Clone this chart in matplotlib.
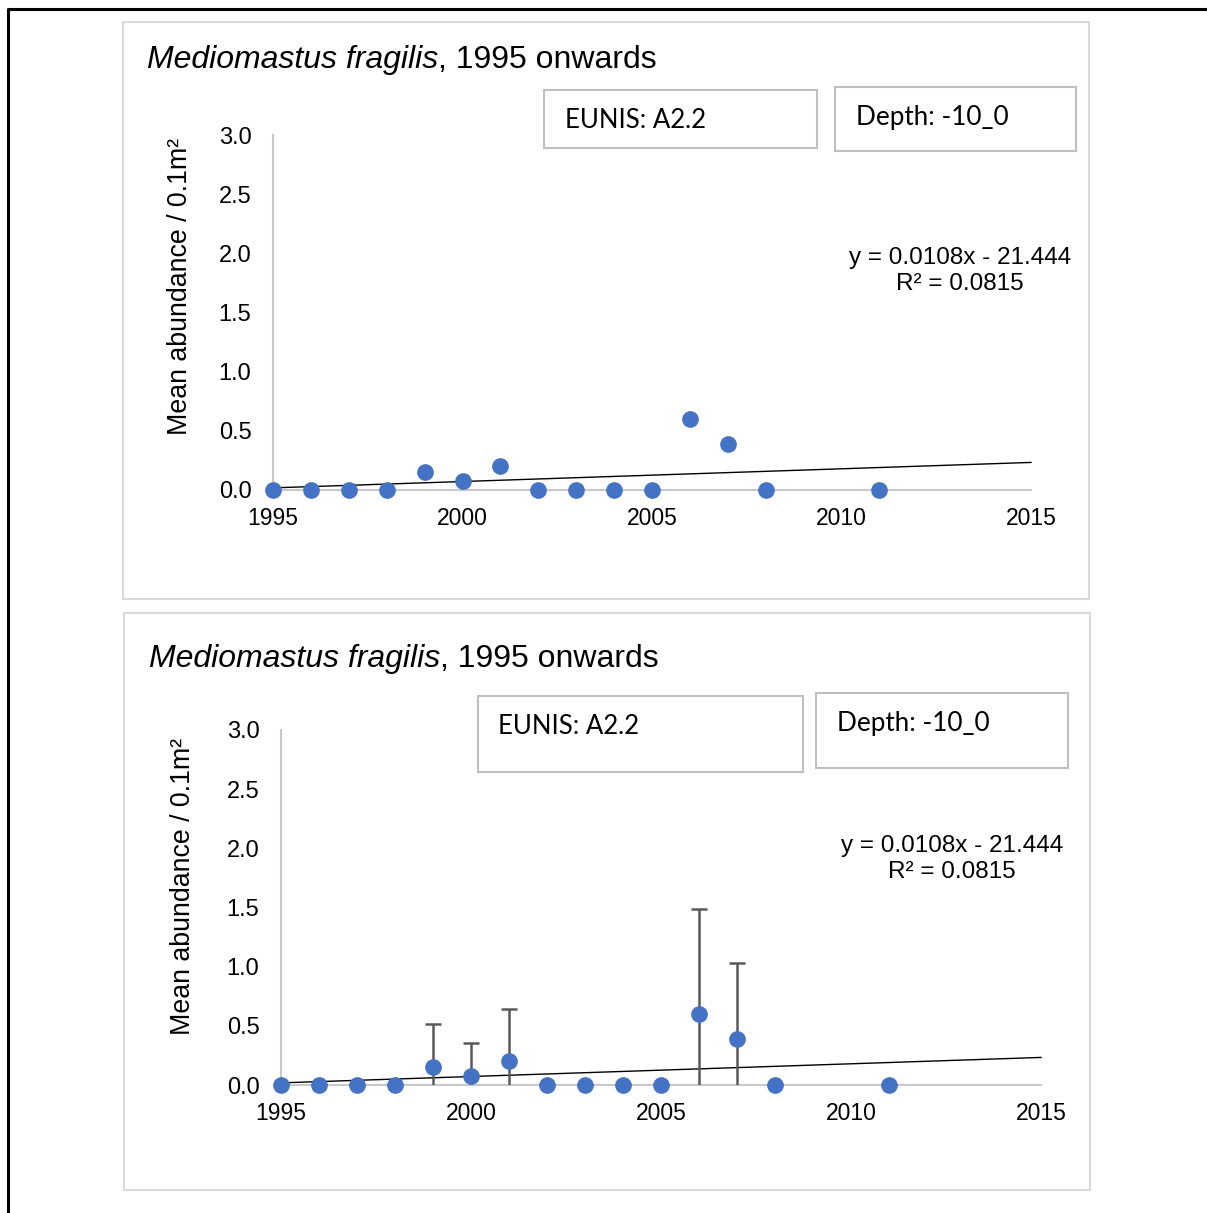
import numpy as np
import matplotlib
matplotlib.use("Agg")
import matplotlib.pyplot as plt
from matplotlib.patches import Rectangle
from matplotlib.lines import Line2D

# ---- data ----
years = [1995, 1996, 1997, 1998, 1999, 2000, 2001, 2002, 2003, 2004, 2005, 2006, 2007, 2008, 2011]
abundance = [0, 0, 0, 0, 0.15, 0.08, 0.2, 0, 0, 0, 0, 0.6, 0.39, 0, 0]
errors = [0, 0, 0, 0, 0.365, 0.275, 0.44, 0, 0, 0, 0, 0.89, 0.64, 0, 0]
yticks = [0.0, 0.5, 1.0, 1.5, 2.0, 2.5, 3.0]
xticks = [1995, 2000, 2005, 2010, 2015]
title_italic = "Mediomastus fragilis"
title_rest = ", 1995 onwards"
ylabel = "Mean abundance / 0.1m\u00b2"
eunis_label = "EUNIS: A2.2"
depth_label = "Depth: -10_0"
equation = "y = 0.0108x - 21.444\nR\u00b2 = 0.0815"

W, H = 1207, 1213
fig = plt.figure(figsize=(W / 100, H / 100), dpi=100)
fig.patch.set_facecolor("white")

def fx(x):
    return x / W

def fy(y):
    return 1 - y / H

FONT = "Liberation Sans"
BOXFONT = "Lato"
BLUE = "#4472C4"
GRID = "#c8c8c8"

# outer black frame (top and left)
fig.add_artist(Line2D([fx(8), fx(8), fx(1207)], [fy(1213), fy(9), fy(9)],
                      color="black", lw=2.2, transform=fig.transFigure))

def rect_px(x0, y0, x1, y1, color, lw):
    fig.add_artist(Rectangle((fx(x0), fy(y1)), fx(x1) - fx(x0), fy(y0) - fy(y1),
                             transform=fig.transFigure, fill=False,
                             edgecolor=color, lw=lw))

def panel(box, ax_px, title_xy, ylabel_xy, eunis_box, eunis_txt, depth_box, depth_txt,
          eq_xy, with_err):
    rect_px(*box, color="#d9d9d9", lw=1.5)
    x0, x1, y0, y1 = ax_px  # x at 1995, x at 2015, y at 0, y at 3
    ax = fig.add_axes([fx(x0), fy(y0), fx(x1) - fx(x0), fy(y1) - fy(y0)])
    ax.set_xlim(1995, 2015)
    ax.set_ylim(0, 3)
    ax.set_facecolor("none")
    for s in ["top", "right"]:
        ax.spines[s].set_visible(False)
    for s in ["left", "bottom"]:
        ax.spines[s].set_color(GRID)
        ax.spines[s].set_linewidth(1.5)
    ax.set_xticks(xticks)
    ax.set_yticks(yticks)
    ax.set_yticklabels([f"{v:.1f}" for v in yticks])
    ax.tick_params(axis="x", length=0, labelsize=16.5, colors="black", pad=12)
    ax.tick_params(axis="y", length=0, labelsize=17, colors="black", pad=15.5)
    for lab in ax.get_xticklabels() + ax.get_yticklabels():
        lab.set_fontfamily(FONT)

    # trendline
    coef = np.polyfit(years, abundance, 1)
    xs = np.array([1995, 2015])
    ax.plot(xs, np.polyval(coef, xs), color="black", lw=1.0, zorder=2, clip_on=False)

    if with_err:
        ax.errorbar(years, abundance, yerr=errors, fmt="none", ecolor="#595959",
                    elinewidth=1.8, capsize=6, capthick=1.8, zorder=3)
    ax.plot(years, abundance, "o", color=BLUE, ms=11, zorder=4, clip_on=False)

    # title
    t1 = fig.text(fx(title_xy[0]), fy(title_xy[1]), title_italic, style="italic",
                  fontsize=23, family=FONT, ha="left", va="center")
    ax.annotate(title_rest, xy=(1, 0), xycoords=t1, ha="left", va="bottom",
                fontsize=23, family=FONT)
    fig.text(fx(ylabel_xy[0]), fy(ylabel_xy[1]), ylabel, rotation=90, fontsize=19.3,
             family=FONT, ha="center", va="center")

    rect_px(*eunis_box, color="#bfbfbf", lw=1.5)
    fig.text(fx(eunis_txt[0]), fy(eunis_txt[1]), eunis_label, fontsize=18.5, family=BOXFONT,
             ha="left", va="center")
    rect_px(*depth_box, color="#bfbfbf", lw=1.5)
    fig.text(fx(depth_txt[0]), fy(depth_txt[1]), depth_label, fontsize=18.8, family=BOXFONT,
             ha="left", va="center")
    fig.text(fx(eq_xy[0]), fy(eq_xy[1]), equation, fontsize=17.5, family=FONT,
             ha="right", va="center", multialignment="center", linespacing=1.2)

panel(box=(123, 22, 1089, 599), ax_px=(273, 1031, 490, 135), title_xy=(147, 60),
      ylabel_xy=(180, 286), eunis_box=(544, 90, 817, 148), eunis_txt=(565, 121),
      depth_box=(835, 87, 1076, 151), depth_txt=(856, 118), eq_xy=(1071, 271),
      with_err=False)
panel(box=(124, 613, 1090, 1190), ax_px=(281, 1041, 1085, 730), title_xy=(149, 659),
      ylabel_xy=(183, 886), eunis_box=(478, 696, 803, 772), eunis_txt=(498, 726),
      depth_box=(816, 693, 1068, 768), depth_txt=(837, 723), eq_xy=(1063, 859),
      with_err=True)

fig.savefig("out.png", dpi=100)
